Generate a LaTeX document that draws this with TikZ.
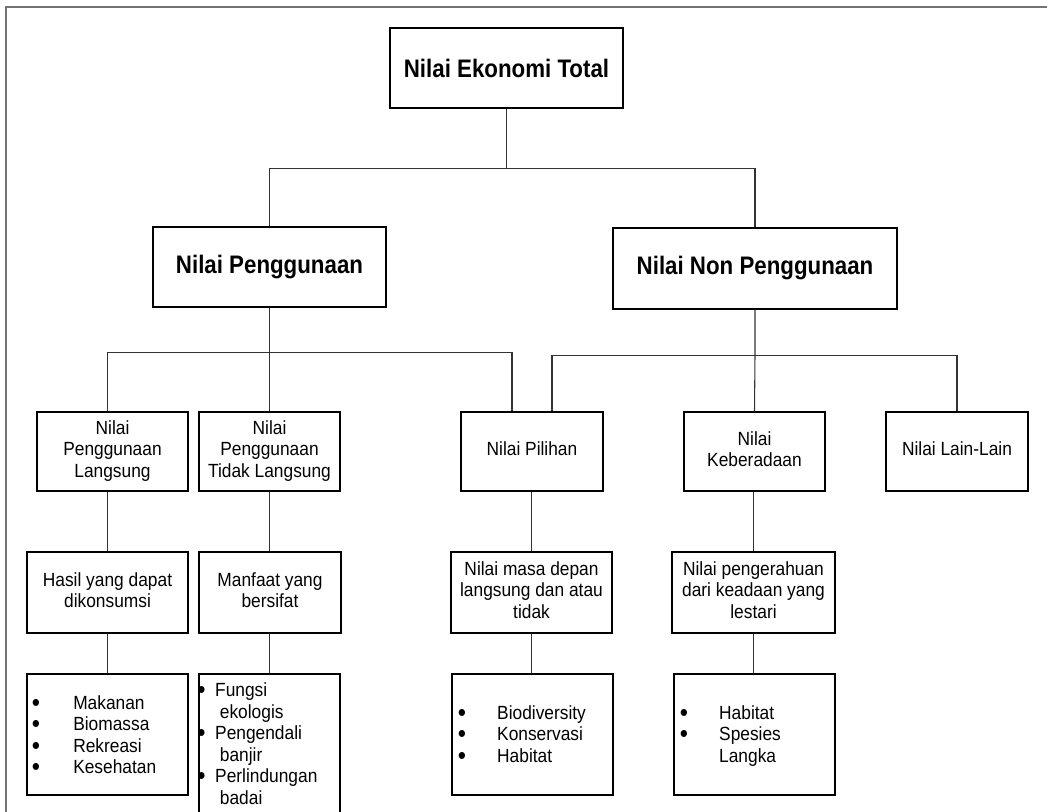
\documentclass[tikz,border=0pt]{standalone}
\usepackage{graphicx}
\usepackage{fontspec}
\setmainfont{Liberation Sans}
\newcommand\fbig{\fontsize{19}{22}\selectfont\bfseries}
\newcommand\fsm{\fontsize{14.3}{16.1}\selectfont}
\newcommand\sqb[1]{\scalebox{0.88}[1]{#1}}
\newcommand\sqs[1]{\scalebox{0.91}[1]{\begin{tabular}{@{}c@{}}#1\end{tabular}}}
\newcommand\sql[1]{\scalebox{0.91}[1]{\begin{tabular}[t]{@{}l@{}}#1\end{tabular}}}
\newcommand\bul{\raisebox{-0.1em}{\scalebox{1.35}{•}}}
\tikzset{
  box/.style={draw=black, line width=0.8pt, inner sep=0pt, align=center, font=\fsm},
  bigbox/.style={box, font=\fbig},
  conn/.style={draw=black!80, line width=0.8pt},
  frame/.style={draw=black!55, line width=1.5pt},
  list/.style={inner sep=0pt, anchor=base west, font=\fsm}
}
\begin{document}
\begin{tikzpicture}[x=0.75pt,y=-0.75pt]
\useasboundingbox (0,0) rectangle (1047,812);
\clip (0,0) rectangle (1047,812);
\draw[frame] (6,820) -- (6,7) -- (1050,7);

% level 1-2
\node[bigbox, minimum width=233*0.75pt, minimum height=80*0.75pt] (NET) at (506.5,68) {\sqb{Nilai Ekonomi Total}};
\node[bigbox, minimum width=233*0.75pt, minimum height=80*0.75pt] (NP) at (269.5,267) {\sqb{Nilai Penggunaan}};
\node[bigbox, minimum width=284*0.75pt, minimum height=81*0.75pt] (NNP) at (755,268.5) {\sqb{Nilai Non Penggunaan}};

% level 3
\node[box, minimum width=151*0.75pt, minimum height=79*0.75pt] (L) at (112.5,451.5) {\sqs{Nilai\\Penggunaan\\Langsung}};
\node[box, minimum width=141*0.75pt, minimum height=79*0.75pt] (TL) at (269.5,451.5) {\sqs{Nilai\\Penggunaan\\Tidak Langsung}};
\node[box, minimum width=142*0.75pt, minimum height=79*0.75pt] (Pil) at (532,451.5) {\sqs{Nilai Pilihan}};
\node[box, minimum width=141*0.75pt, minimum height=79*0.75pt] (Keb) at (754.5,451.5) {\sqs{Nilai\\Keberadaan}};
\node[box, minimum width=142*0.75pt, minimum height=79*0.75pt] (Lain) at (957,451.5) {\sqs{Nilai Lain-Lain}};

% level 4
\node[box, minimum width=161*0.75pt, minimum height=81*0.75pt] (Hasil) at (107.5,592.5) {\sqs{Hasil yang dapat\\dikonsumsi}};
\node[box, minimum width=142*0.75pt, minimum height=81*0.75pt] (Manf) at (270,592.5) {\sqs{Manfaat yang\\bersifat}};
\node[box, minimum width=161*0.75pt, minimum height=81*0.75pt] (Masa) at (531.5,592.5) {\sqs{Nilai masa depan\\langsung dan atau\\tidak}};
\node[box, minimum width=163*0.75pt, minimum height=81*0.75pt] (Peng) at (753.5,592.5) {\sqs{Nilai pengerahuan\\dari keadaan yang\\lestari}};

% level 5 boxes
\node[box, minimum width=161*0.75pt, minimum height=121*0.75pt] (Mak) at (107.5,734.5) {};
\node[box, minimum width=141*0.75pt, minimum height=166*0.75pt] (Fung) at (269.5,757) {};
\node[box, minimum width=161*0.75pt, minimum height=121*0.75pt] (Bio) at (532.5,734.5) {};
\node[box, minimum width=161*0.75pt, minimum height=121*0.75pt] (Hab) at (754.5,734.5) {};

% level 5 lists
\node[list] (MakT) at (31.5,709.4) {\sql{%
\makebox[34.2pt][l]{\bul}Makanan\\
\makebox[34.2pt][l]{\bul}Biomassa\\
\makebox[34.2pt][l]{\bul}Rekreasi\\
\makebox[34.2pt][l]{\bul}Kesehatan}};
\node[list] (FungT) at (197.2,696.7) {\sql{%
\makebox[14.6pt][l]{\bul}Fungsi\\
\hspace*{18.5pt}ekologis\\
\makebox[14.6pt][l]{\bul}Pengendali\\
\hspace*{18.5pt}banjir\\
\makebox[14.6pt][l]{\bul}Perlindungan\\
\hspace*{18.5pt}badai}};
\node[list] (BioT) at (457.5,719.4) {\sql{%
\makebox[32.5pt][l]{\bul}Biodiversity\\
\makebox[32.5pt][l]{\bul}Konservasi\\
\makebox[32.5pt][l]{\bul}Habitat}};
\node[list] (HabT) at (679.5,719.4) {\sql{%
\makebox[32.5pt][l]{\bul}Habitat\\
\makebox[32.5pt][l]{\bul}Spesies\\
\hspace*{32.5pt}Langka}};

% junction coordinates
\coordinate (j1) at (506.5,168.5);
\coordinate (j2) at (269.5,352.7);
\coordinate (j3) at (755,355.3);
\coordinate (pL) at ([xshift=-15pt]Pil.north);
\coordinate (pR) at ([xshift=15pt]Pil.north);

% connectors
\draw[conn] (NET.south) -- (j1);
\draw[conn] (NP.north) |- (j1) -| (NNP.north);
\draw[conn] (NP.south) -- (j2) -- (TL.north);
\draw[conn] (Hasil.north |- L.north) |- (j2) -| (pL);
\draw[conn] (NNP.south) -- (j3) -- (Keb.north);
\draw[conn] (pR) |- (j3) -| (Lain.north);

\draw[conn] (Hasil.north |- L.south) -- (Hasil.north);
\draw[conn] (TL.south) -- (TL.south |- Manf.north);
\draw[conn] (Masa.north |- Pil.south) -- (Masa.north);
\draw[conn] (Peng.north |- Keb.south) -- (Peng.north);

\draw[conn] (Hasil.south) -- (Mak.north);
\draw[conn] (Fung.north |- Manf.south) -- (Fung.north);
\draw[conn] (Masa.south) -- (Masa.south |- Bio.north);
\draw[conn] (Peng.south) -- (Peng.south |- Hab.north);
\end{tikzpicture}
\end{document}
